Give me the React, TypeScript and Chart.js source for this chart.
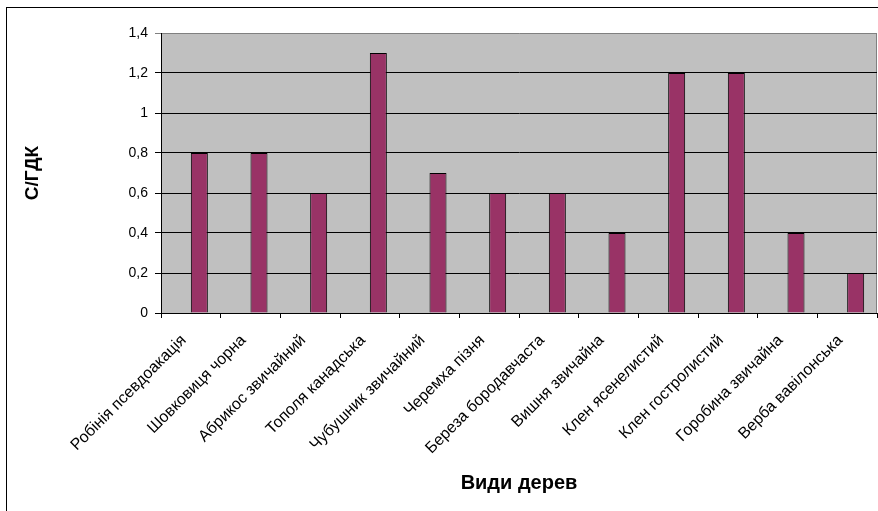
import React, { useEffect, useRef } from "react";
import { Chart, registerables } from "chart.js";

Chart.register(...registerables);

// Tree species (category axis)
const species = [
  "Робінія псевдоакація",
  "Шовковиця чорна",
  "Абрикос звичайний",
  "Тополя канадська",
  "Чубушник звичайний",
  "Черемха пізня",
  "Береза бородавчаста",
  "Вишня звичайна",
  "Клен ясенелистий",
  "Клен гостролистий",
  "Горобина звичайна",
  "Верба вавілонська",
];

// Concentration relative to the maximum permissible level (С/ГДК)
const ratioValues = [0.8, 0.8, 0.6, 1.3, 0.7, 0.6, 0.6, 0.4, 1.2, 1.2, 0.4, 0.2];

// Series without values (keeps the grouped slot on the left of each category)
const blankSeries: (number | null)[] = [];

const yTickValues = [0, 0.2, 0.4, 0.6, 0.8, 1, 1.2, 1.4];
const yTickLabels = ["0", "0,2", "0,4", "0,6", "0,8", "1", "1,2", "1,4"];

const FONT = "'Liberation Sans', Arial, Helvetica, sans-serif";
const PLOT_LEFT = 161;
const PLOT_TOP = 33;
const PLOT_BOTTOM = 313;
const CANVAS_W = 878;
const CANVAS_H = 511;

const plotBackground = {
  id: "plotBackground",
  beforeDraw(chart: Chart) {
    const { ctx, chartArea } = chart;
    if (!chartArea) return;
    ctx.save();
    ctx.fillStyle = "#C0C0C0";
    ctx.fillRect(chartArea.left, chartArea.top, chartArea.right - chartArea.left, chartArea.bottom - chartArea.top);
    ctx.strokeStyle = "#808080";
    ctx.lineWidth = 1;
    const r = Math.round(chartArea.right) - 0.5;
    ctx.beginPath();
    ctx.moveTo(r, chartArea.top);
    ctx.lineTo(r, chartArea.bottom);
    ctx.stroke();
    ctx.restore();
  },
};

export default function App() {
  const canvasRef = useRef<HTMLCanvasElement | null>(null);

  useEffect(() => {
    const canvas = canvasRef.current;
    if (!canvas) return;
    const yMax = yTickValues[yTickValues.length - 1];
    const chart = new Chart(canvas, {
      type: "bar",
      data: {
        labels: species,
        datasets: [
          {
            label: "",
            data: blankSeries,
            backgroundColor: "#3366CC",
            borderColor: "#000000",
            borderWidth: 1,
          },
          {
            label: "С/ГДК",
            data: ratioValues,
            backgroundColor: "#993366",
            borderColor: "#000000",
            borderWidth: 1,
          },
        ],
      },
      options: {
        animation: false,
        responsive: false,
        maintainAspectRatio: false,
        devicePixelRatio: 1,
        layout: { padding: { left: 0, top: PLOT_TOP, right: 1, bottom: 0 } },
        datasets: {
          bar: { categoryPercentage: 0.57, barPercentage: 1 },
        },
        plugins: {
          legend: { display: false },
          tooltip: { enabled: false },
          title: { display: false },
        },
        scales: {
          x: {
            type: "category",
            offset: true,
            grid: {
              display: true,
              offset: true,
              drawOnChartArea: false,
              drawTicks: true,
              tickLength: 5,
              color: "#000000",
              lineWidth: 1,
            },
            border: { display: true, color: "#000000", width: 1 },
            ticks: {
              autoSkip: false,
              minRotation: 45,
              maxRotation: 45,
              padding: 13,
              labelOffset: -7,
              color: "#000000",
              font: { family: FONT, size: 16 },
            },
            title: {
              display: true,
              text: "Види дерев",
              color: "#000000",
              font: { family: FONT, size: 20, weight: "bold" },
              padding: { top: 0, bottom: 16 },
            },
            afterFit(scale: any) {
              scale.height = CANVAS_H - PLOT_BOTTOM;
            },
          },
          y: {
            type: "linear",
            min: 0,
            max: yMax,
            grid: {
              display: true,
              drawTicks: true,
              tickLength: 6,
              color: (c: any) => (c.tick && c.tick.value >= yMax - 1e-9 ? "#808080" : "#000000"),
              lineWidth: 1,
            },
            border: { display: true, color: "#000000", width: 1 },
            afterBuildTicks(scale: any) {
              scale.ticks = yTickValues.map((v) => ({ value: v }));
            },
            ticks: {
              padding: 7,
              color: "#000000",
              font: { family: FONT, size: 14 },
              callback: (value: any) => {
                const i = yTickValues.findIndex((v) => Math.abs(v - Number(value)) < 1e-9);
                return i >= 0 ? yTickLabels[i] : "";
              },
            },
            title: {
              display: true,
              text: "С/ГДК",
              color: "#000000",
              font: { family: FONT, size: 19, weight: "bold" },
              padding: { top: 21, bottom: 0 },
            },
            afterFit(scale: any) {
              scale.width = PLOT_LEFT;
            },
          },
        },
      },
      plugins: [plotBackground],
    });
    return () => chart.destroy();
  }, []);

  return (
    <div
      style={{
        position: "fixed",
        left: 0,
        top: 0,
        width: CANVAS_W,
        height: CANVAS_H,
        overflow: "hidden",
        background: "#ffffff",
      }}
    >
      <div
        style={{
          position: "absolute",
          left: 6,
          top: 7,
          width: CANVAS_W + 20,
          height: CANVAS_H + 20,
          border: "1px solid #000000",
          boxSizing: "border-box",
        }}
      />
      <canvas
        ref={canvasRef}
        width={CANVAS_W}
        height={CANVAS_H}
        style={{ position: "absolute", left: 0, top: 0, width: CANVAS_W, height: CANVAS_H }}
      />
    </div>
  );
}
